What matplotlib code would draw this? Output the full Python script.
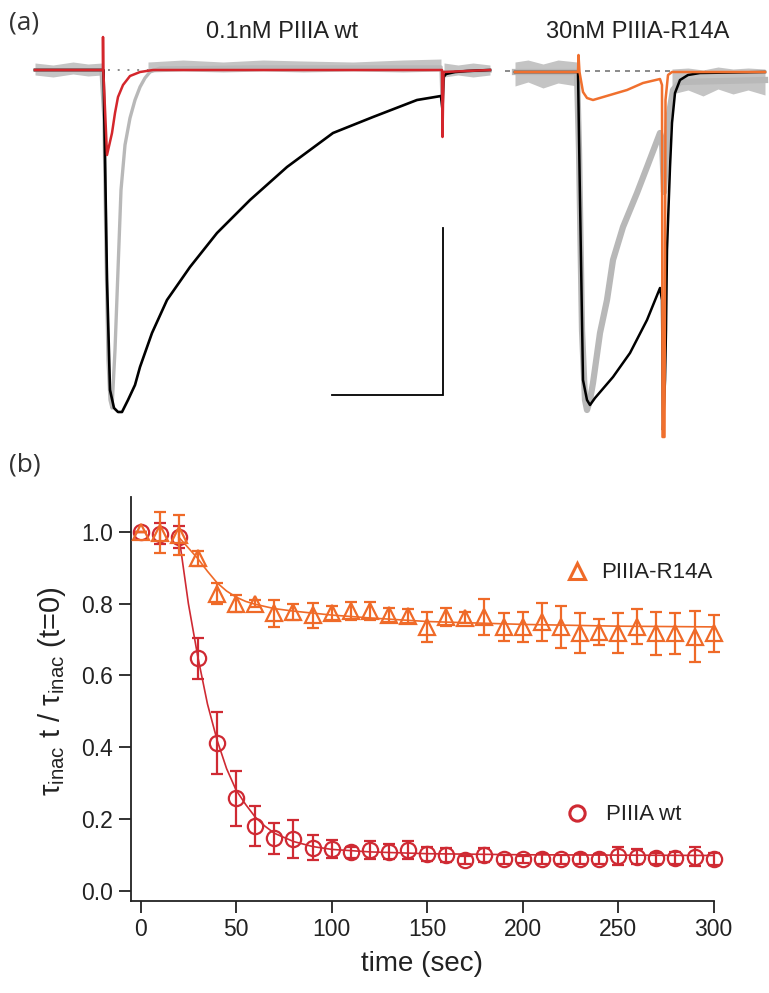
import matplotlib
matplotlib.use("Agg")
import matplotlib.pyplot as plt
from matplotlib.lines import Line2D
import numpy as np

plt.rcParams['font.family'] = ['Liberation Sans', 'DejaVu Sans']
plt.rcParams['mathtext.fontset'] = 'custom'
plt.rcParams['mathtext.rm'] = 'Liberation Sans'
plt.rcParams['mathtext.it'] = 'Liberation Sans:italic'

# ---------------- panel (a): current traces (t in ms, I in nA) ----------------
# left: 0.1nM PIIIA wt
wt_ctrl_t = [-6.8, -0.2, 0.1, 0.3, 0.5, 0.7, 0.9, 1.2, 1.5, 1.8, 2.2, 2.7, 3.2, 3.7,
             4.2, 4.7, 5.7, 14.7, 33.8, 33.9, 34.1, 38.7]
wt_ctrl_i = [0.0, 0.0, -0.50, -1.80, -2.90, -3.30, -3.38, -2.80, -2.00, -1.20, -0.75,
             -0.48, -0.30, -0.17, -0.08, -0.02, 0.02, 0.03, 0.03, -0.30, -0.02, -0.01]
wt_ctrl_noise_t = [-6.8, -5.0, -3.0, -1.5, -0.1]
wt_ctrl_noise_lo = [-0.05, -0.07, -0.04, -0.06, -0.05]
wt_ctrl_noise_hi = [0.07, 0.05, 0.08, 0.06, 0.07]
wt_ctrl_noise2_t = [4.5, 8.0, 12.0, 16.0, 20.0, 25.0, 30.0, 33.8]
wt_ctrl_noise2_lo = [-0.02, -0.01, -0.02, -0.01, -0.02, -0.01, -0.02, -0.01]
wt_ctrl_noise2_hi = [0.08, 0.10, 0.08, 0.10, 0.09, 0.08, 0.10, 0.11]
wt_ctrl_noise3_t = [34.1, 35.5, 37.0, 38.7]
wt_ctrl_noise3_lo = [-0.07, -0.05, -0.07, -0.05]
wt_ctrl_noise3_hi = [0.07, 0.05, 0.07, 0.05]

wt_tox_t = [-6.8, -0.01, 0.0, 0.03, 0.4, 0.9, 1.2, 1.5, 2.0, 2.7, 3.7, 5.0, 33.9,
            33.95, 34.05, 38.7]
wt_tox_i = [0.0, 0.0, 0.33, 0.0, -0.85, -0.63, -0.43, -0.27, -0.15, -0.06, -0.02, 0.0,
            0.0, -0.67, -0.02, 0.0]

wt_wash_t = [-6.8, 0.05, 0.2, 0.4, 0.7, 1.1, 1.5, 1.9, 2.5, 3.2, 3.7, 4.9, 6.4, 8.7,
             11.4, 14.7, 18.4, 23.0, 27.0, 31.4, 33.8, 33.95, 34.05, 34.3, 35.2, 36.4, 38.7]
wt_wash_i = [0.0, 0.0, -0.87, -2.10, -3.20, -3.38, -3.42, -3.42, -3.30, -3.15, -2.97,
             -2.63, -2.30, -1.97, -1.63, -1.30, -0.97, -0.63, -0.47, -0.30, -0.26,
             -0.40, -0.07, -0.04, -0.02, -0.01, 0.0]

# right: 30nM PIIIA-R14A
mut_ctrl_t = [-6.3, -0.1, 0.1, 0.4, 0.7, 0.9, 1.2, 1.5, 2.2, 2.9, 3.5, 4.5, 5.9, 6.9,
              8.2, 8.4, 8.6, 9.0, 9.5, 10.2, 18.7]
mut_ctrl_i = [0.0, 0.0, -0.78, -2.58, -3.28, -3.38, -3.28, -3.11, -2.61, -2.28, -1.88,
              -1.55, -1.21, -0.95, -0.61, -0.68, -1.20, -0.48, -0.18, -0.10, -0.08]
mut_ctrl_noise_t = [-6.3, -5.0, -3.5, -2.0, -0.1]
mut_ctrl_noise_lo = [-0.14, -0.10, -0.16, -0.11, -0.14]
mut_ctrl_noise_hi = [0.10, 0.12, 0.08, 0.12, 0.10]
mut_ctrl_noise2_t = [9.4, 11.0, 12.5, 14.0, 15.5, 17.0, 18.7]
mut_ctrl_noise2_lo = [-0.22, -0.18, -0.24, -0.17, -0.22, -0.18, -0.23]
mut_ctrl_noise2_hi = [0.03, 0.04, 0.02, 0.05, 0.03, 0.04, 0.03]

mut_tox_t = [-6.3, 0.0, 0.05, 0.15, 0.5, 0.9, 1.5, 3.2, 4.9, 6.5, 8.2, 8.4, 8.45,
             8.65, 8.75, 9.0, 9.4, 18.7]
mut_tox_i = [0.0, 0.0, 0.17, 0.0, -0.20, -0.26, -0.28, -0.23, -0.18, -0.11, -0.07,
             -0.13, -3.65, -3.65, -0.28, -0.03, 0.0, 0.0]

mut_wash_t = [-6.3, 0.0, 0.2, 0.5, 0.9, 1.2, 1.7, 3.5, 5.2, 6.9, 8.2, 8.4, 8.5, 8.7,
              8.8, 8.9, 9.2, 9.4, 9.7, 10.2, 11.0, 12.2, 18.7]
mut_wash_i = [0.0, 0.0, -1.28, -3.08, -3.28, -3.33, -3.26, -3.05, -2.81, -2.48, -2.16,
              -2.28, -3.58, -3.08, -2.58, -1.78, -0.95, -0.51, -0.21, -0.08, -0.03,
              -0.01, 0.0]

# ---------------- panel (b): tau_inac ratio ----------------
time_s = [0, 10, 20, 30, 40, 50, 60, 70, 80, 90, 100, 110, 120, 130, 140, 150, 160,
          170, 180, 190, 200, 210, 220, 230, 240, 250, 260, 270, 280, 290, 300]
wt_mean = [1.0, 0.995, 0.986, 0.647, 0.412, 0.257, 0.181, 0.146, 0.143, 0.12, 0.115,
           0.107, 0.113, 0.109, 0.113, 0.102, 0.10, 0.085, 0.099, 0.087, 0.087, 0.088,
           0.087, 0.088, 0.088, 0.097, 0.095, 0.09, 0.092, 0.095, 0.088]
wt_err = [0.0, 0.03, 0.03, 0.056, 0.086, 0.077, 0.056, 0.043, 0.053, 0.035, 0.025,
          0.015, 0.025, 0.02, 0.025, 0.02, 0.02, 0.012, 0.02, 0.012, 0.01, 0.015, 0.012,
          0.015, 0.015, 0.025, 0.02, 0.015, 0.017, 0.027, 0.017]
r14a_mean = [1.0, 0.998, 0.99, 0.926, 0.828, 0.80, 0.80, 0.773, 0.777, 0.768, 0.774,
             0.779, 0.779, 0.768, 0.765, 0.735, 0.763, 0.761, 0.763, 0.735, 0.735,
             0.749, 0.735, 0.717, 0.721, 0.717, 0.735, 0.717, 0.717, 0.708, 0.717]
r14a_err = [0.0, 0.058, 0.056, 0.02, 0.03, 0.023, 0.01, 0.037, 0.023, 0.035, 0.02,
            0.025, 0.025, 0.02, 0.02, 0.042, 0.026, 0.016, 0.05, 0.04, 0.042, 0.052,
            0.058, 0.056, 0.037, 0.056, 0.049, 0.059, 0.058, 0.072, 0.051]

wt_fit_t = [20, 25, 30, 35, 40, 45, 50, 55, 60, 65, 70, 80, 90, 100, 120, 150, 200, 250, 300]
wt_fit_y = [0.99, 0.80, 0.65, 0.52, 0.42, 0.34, 0.28, 0.24, 0.205, 0.18, 0.16, 0.137,
            0.123, 0.115, 0.108, 0.103, 0.10, 0.099, 0.098]
r14a_fit_t = [20, 25, 30, 35, 40, 45, 50, 55, 60, 70, 80, 100, 120, 150, 200, 250, 300]
r14a_fit_y = [0.985, 0.955, 0.925, 0.89, 0.858, 0.835, 0.818, 0.806, 0.798, 0.786,
              0.779, 0.768, 0.760, 0.750, 0.742, 0.737, 0.735]

panel_titles = ['0.1nM PIIIA wt', '30nM PIIIA-R14A']
series_names = ['PIIIA-R14A', 'PIIIA wt']

RED = '#d4262c'
ORANGE = '#f0702e'
RED_B = '#cf2a33'
ORANGE_B = '#ef6a28'
GRAY = '#b8b8b8'
GRAY_N = '#c4c4c4'
TXT = '#222222'

W, H = 769, 993
fig = plt.figure(figsize=(W / 100, H / 100), dpi=100)

# ----- panel (a) left -----
axL = fig.add_axes([0, 1 - 450 / H, 500 / W, 450 / H])
axL.set_xlim(-10.3, 39.7)
axL.set_ylim(-3.80, 0.70)
axL.axis('off')
axL.plot([0.5, 33.8], [0, 0], color='#888888', lw=1.4, ls=(0, (1, 4)), zorder=1)
for nt, nlo, nhi in [(wt_ctrl_noise_t, wt_ctrl_noise_lo, wt_ctrl_noise_hi),
                     (wt_ctrl_noise2_t, wt_ctrl_noise2_lo, wt_ctrl_noise2_hi),
                     (wt_ctrl_noise3_t, wt_ctrl_noise3_lo, wt_ctrl_noise3_hi)]:
    axL.fill_between(nt, nlo, nhi, color=GRAY_N, lw=0, zorder=2)
axL.plot(wt_ctrl_t, wt_ctrl_i, color=GRAY, lw=2.4, zorder=3)
axL.plot(wt_wash_t, wt_wash_i, color='black', lw=1.9, zorder=4)
axL.plot(wt_tox_t, wt_tox_i, color=RED, lw=1.8, zorder=5)
# scale bar
axL.plot([22.9, 34.0, 34.0], [-3.25, -3.25, -1.58], color='black', lw=1.3,
         solid_joinstyle='miter')

# ----- panel (a) right -----
axR = fig.add_axes([500 / W, 1 - 450 / H, 269 / W, 450 / H])
axR.set_xlim(-7.8, 19.1)
axR.set_ylim(-3.78, 0.72)
axR.axis('off')
axR.plot([-7.3, 18.7], [0.01, 0.01], color='#777777', lw=1.2, ls=(0, (3, 3)), zorder=1)
for nt, nlo, nhi in [(mut_ctrl_noise_t, mut_ctrl_noise_lo, mut_ctrl_noise_hi),
                     (mut_ctrl_noise2_t, mut_ctrl_noise2_lo, mut_ctrl_noise2_hi)]:
    axR.fill_between(nt, nlo, nhi, color=GRAY_N, lw=0, zorder=2)
axR.plot(mut_ctrl_t, mut_ctrl_i, color=GRAY, lw=4.5, zorder=3)
axR.plot(mut_wash_t, mut_wash_i, color='black', lw=1.8, zorder=4)
axR.plot(mut_tox_t, mut_tox_i, color=ORANGE, lw=1.8, zorder=5)

fig.text(9 / W, 1 - 23 / H, '(a)', fontsize=19, family=['Open Sans', 'DejaVu Sans'],
         va='center', ha='left', color='#333333')
fig.text(282 / W, 1 - 32 / H, panel_titles[0], fontsize=17, ha='center', va='center',
         color=TXT)
fig.text(638 / W, 1 - 32 / H, panel_titles[1], fontsize=17, ha='center', va='center',
         color=TXT)

# ----- panel (b) -----
fig.text(9 / W, 1 - 465 / H, '(b)', fontsize=19, family=['Open Sans', 'DejaVu Sans'],
         va='center', ha='left', color='#333333')
x0, x1, ytop, ybot = 130.5, 713.7, 497.0, 900.7
ax = fig.add_axes([x0 / W, 1 - ybot / H, (x1 - x0) / W, (ybot - ytop) / H])
ax.set_xlim(-5.3, 300)
ax.set_ylim(-0.028, 1.097)
for s in ['top', 'right']:
    ax.spines[s].set_visible(False)
for s in ['left', 'bottom']:
    ax.spines[s].set_linewidth(1.3)
    ax.spines[s].set_color(TXT)
ax.set_xticks([0, 50, 100, 150, 200, 250, 300])
ax.set_yticks([0.0, 0.2, 0.4, 0.6, 0.8, 1.0])
ax.set_yticklabels(['0.0', '0.2', '0.4', '0.6', '0.8', '1.0'])
ax.tick_params(direction='out', length=8.5, width=1.3, labelsize=16.5, pad=4,
               color=TXT, labelcolor=TXT)

ax.plot(wt_fit_t, wt_fit_y, color=RED_B, lw=1.2, zorder=3)
ax.plot(r14a_fit_t, r14a_fit_y, color=ORANGE_B, lw=1.2, zorder=3)
ax.errorbar(time_s, wt_mean, yerr=wt_err, fmt='o', ms=11, mfc='none', mec=RED_B,
            mew=1.6, ecolor=RED_B, elinewidth=1.6, capsize=4.5, capthick=1.6,
            zorder=4, clip_on=False)
ax.errorbar(time_s, r14a_mean, yerr=r14a_err, fmt='^', ms=11, mfc='none', mec=ORANGE_B,
            mew=1.6, ecolor=ORANGE_B, elinewidth=1.6, capsize=4.5, capthick=1.6,
            zorder=5, clip_on=False)

ax.set_ylabel('τ$_{\\mathrm{inac}}$ t / τ$_{\\mathrm{inac}}$ (t=0)', fontsize=21,
              color=TXT)
ax.yaxis.set_label_coords((52 - x0) / (x1 - x0), (ybot - 691) / (ybot - ytop))
ax.yaxis.label.set_va('center')
ax.set_xlabel('time (sec)', fontsize=20, color=TXT)
ax.xaxis.set_label_coords(0.5, (ybot - 951) / (ybot - ytop))
ax.xaxis.label.set_va('top')

h_tri = Line2D([], [], marker='^', ls='none', ms=11, mfc='none', mec=ORANGE_B, mew=2.2)
h_circ = Line2D([], [], marker='o', ls='none', ms=11, mfc='none', mec=RED_B, mew=2.2)
leg1 = ax.legend([h_tri], [series_names[0]], loc='center left',
                 bbox_to_anchor=((566 - x0) / (x1 - x0), (ybot - 573) / (ybot - ytop)),
                 frameon=False, fontsize=16, handlelength=1.0, handletextpad=0.6,
                 borderpad=0, borderaxespad=0, labelcolor=TXT)
ax.add_artist(leg1)
ax.legend([h_circ], [series_names[1]], loc='center left',
          bbox_to_anchor=((566 - x0) / (x1 - x0), (ybot - 815) / (ybot - ytop)),
          frameon=False, fontsize=16, handlelength=1.0, handletextpad=0.8,
          borderpad=0, borderaxespad=0, labelcolor=TXT)

fig.savefig('out.png', dpi=100)
